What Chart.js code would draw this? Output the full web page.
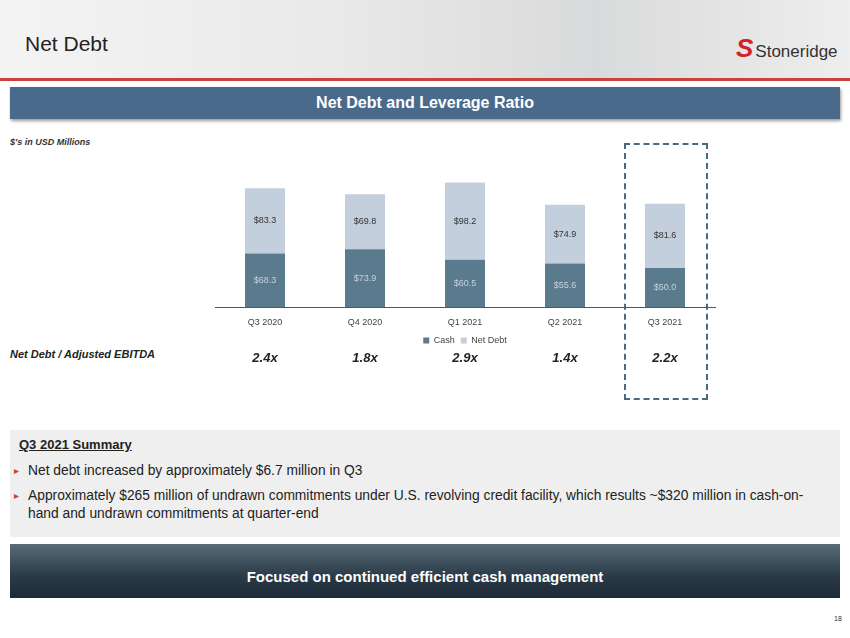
<!DOCTYPE html>
<html><head><meta charset="utf-8">
<script src="https://cdn.jsdelivr.net/npm/chart.js@4"></script>
<style>
body{margin:0;width:850px;height:638px;position:relative;font-family:Arial,"Liberation Sans",sans-serif;background:#fff;overflow:hidden}
.a{position:absolute}
#head{left:0;top:0;width:850px;height:78px;background:linear-gradient(90deg,#f4f4f4 0%,#e9e9e9 40%,#d9dadb 70%,#eeeeee 100%)}
#red{left:0;top:78px;width:850px;height:3px;background:#c9423d}
#title{left:25px;top:32px;font-size:21px;color:#222}
#logo{left:736px;top:33px;font-size:17px;color:#333}
#logo b{color:#d2232a;font-size:26px;font-style:italic;margin-right:2px}
#banner{left:10px;top:87px;width:830px;height:32px;background:#4a6a8c;color:#fff;font-weight:bold;font-size:16px;text-align:center;line-height:32px;box-shadow:1px 2px 3px #999}
#units{left:10px;top:137px;font-size:9px;font-style:italic;font-weight:bold;color:#333}
#lev{left:10px;top:348px;font-size:11px;font-style:italic;font-weight:bold;color:#222}
.r{top:350px;width:60px;margin-left:-30px;text-align:center;font-size:13px;font-style:italic;font-weight:bold;color:#222}
#box{left:624px;top:143px;width:80px;height:253px;border:2px dashed #4a6a80}
#sum{left:10px;top:430px;width:830px;height:107px;background:#efefef}
#sum h4{margin:0;position:absolute;left:9px;top:7px;font-size:13px;text-decoration:underline;color:#222}
#sum p{margin:0;position:absolute;left:18px;font-size:13.8px;color:#222;line-height:18px;width:796px}
#sum p:before{content:"\25B8";color:#c9423d;font-size:10px;position:absolute;left:-14px}
#foot{left:10px;top:544px;width:830px;height:54px;background:linear-gradient(180deg,#5a6b78 0%,#2a3a48 60%,#1e2a36 100%);color:#fff;font-weight:bold;font-size:15px;text-align:center;line-height:66px}
#pg{left:834px;top:615px;font-size:7px;color:#333}
#cv{left:200px;top:169px}
</style></head><body>
<div class="a" id="head"></div><div class="a" id="red"></div>
<div class="a" id="title">Net Debt</div>
<div class="a" id="logo"><b>S</b>Stoneridge</div>
<div class="a" id="banner">Net Debt and Leverage Ratio</div>
<div class="a" id="units">$'s in USD Millions</div>
<div class="a" id="box"></div>
<div class="a" id="cv"><canvas id="c" width="530" height="186"></canvas></div>
<div class="a" id="lev">Net Debt / Adjusted EBITDA</div>
<div id="ratios"></div>
<div class="a" id="sum"><h4>Q3 2021 Summary</h4>
<p style="top:32px">Net debt increased by approximately $6.7 million in Q3</p>
<p style="top:57px">Approximately $265 million of undrawn commitments under U.S. revolving credit facility, which results ~$320 million in cash-on-hand and undrawn commitments at quarter-end</p></div>
<div class="a" id="foot">Focused on continued efficient cash management</div>
<div class="a" id="pg">18</div>
<script>
const quarters = ['Q3 2020', 'Q4 2020', 'Q1 2021', 'Q2 2021', 'Q3 2021'];
const cash = [68.3, 73.9, 60.5, 55.6, 50.0];
const netDebt = [83.3, 69.8, 98.2, 74.9, 81.6];
const leverage = ['2.4x', '1.8x', '2.9x', '1.4x', '2.2x'];

const ratioX = [265, 365, 465, 565, 665];
leverage.forEach((t, i) => {
  const d = document.createElement('div');
  d.className = 'a r'; d.style.left = ratioX[i] + 'px'; d.textContent = t;
  document.getElementById('ratios').appendChild(d);
});

const valueLabels = {
  id: 'valueLabels',
  afterDatasetsDraw(chart) {
    const c = chart.ctx;
    c.save();
    c.font = '9px Arial';
    c.textAlign = 'center'; c.textBaseline = 'middle';
    chart.data.datasets.forEach((ds, di) => {
      c.fillStyle = di === 0 ? '#c8d2dc' : '#333';
      chart.getDatasetMeta(di).data.forEach((bar, i) => {
        const mid = (bar.y + bar.base) / 2;
        c.fillText('$' + ds.data[i].toFixed(1), bar.x, mid);
      });
    });
    c.restore();
  }
};

new Chart(document.getElementById('c'), {
  type: 'bar',
  data: {
    labels: quarters,
    datasets: [
      { label: 'Cash', data: cash, backgroundColor: '#5a7a8e' },
      { label: 'Net Debt', data: netDebt, backgroundColor: '#c3cfdc' }
    ]
  },
  options: {
    responsive: false, animation: false,
    layout: { padding: { left: 15, right: 15, top: 0, bottom: 0 } },
    scales: {
      x: { stacked: true, grid: { display: false }, border: { color: '#555', width: 1 },
           ticks: { color: '#444', font: { size: 9 }, padding: 2 } },
      y: { stacked: true, display: false, min: 0, max: 176 }
    },
    datasets: { bar: { barPercentage: 0.4, categoryPercentage: 1 } },
    plugins: {
      legend: { position: 'bottom', labels: { boxWidth: 6, boxHeight: 6, font: { size: 9 }, color: '#444', padding: 6 } },
      tooltip: { enabled: false }
    }
  },
  plugins: [valueLabels]
});
</script>
</body></html>
